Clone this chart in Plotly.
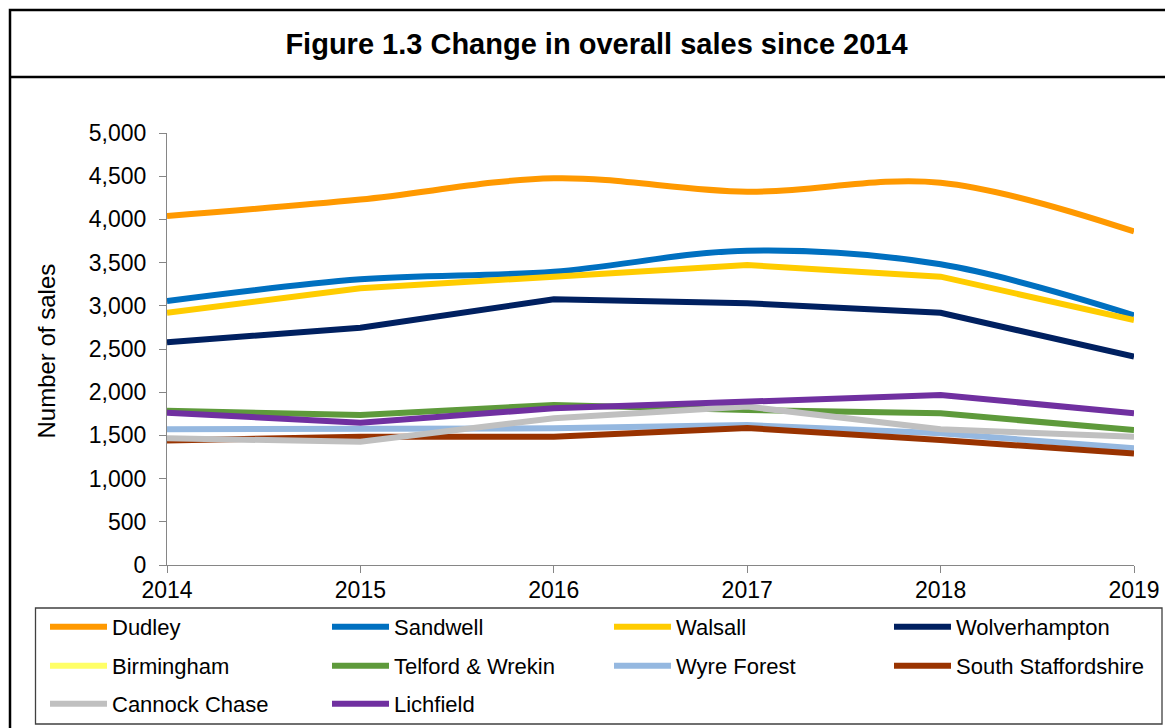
import plotly.graph_objects as go

years = [2014, 2015, 2016, 2017, 2018, 2019]

dudley = [4040, 4230, 4475, 4320, 4425, 3860]
sandwell = [3056, 3306, 3395, 3638, 3480, 2890]
walsall = [2920, 3202, 3337, 3472, 3337, 2836]
wolverhampton = [2578, 2747, 3075, 3029, 2920, 2411]
birmingham = [None, None, None, None, None, None]
telford = [1786, 1736, 1852, 1794, 1755, 1562]
wyre_forest = [1570, 1570, 1582, 1620, 1524, 1350]
south_staffs = [1440, 1485, 1485, 1585, 1447, 1290]
cannock = [1466, 1427, 1698, 1833, 1570, 1485]
lichfield = [1763, 1647, 1813, 1890, 1968, 1755]

y_ticks = [0, 500, 1000, 1500, 2000, 2500, 3000, 3500, 4000, 4500, 5000]

series_names = ["Dudley", "Sandwell", "Walsall", "Wolverhampton", "Birmingham",
                "Telford & Wrekin", "Wyre Forest", "South Staffordshire",
                "Cannock Chase", "Lichfield"]
series_values = [dudley, sandwell, walsall, wolverhampton, birmingham,
                 telford, wyre_forest, south_staffs, cannock, lichfield]
series_colors = ["#FF9900", "#0070C0", "#FFCC00", "#002060", "#FFFF66",
                 "#5E9A3B", "#95B8E0", "#993300", "#C0C0C0", "#7030A0"]
series_shapes = ["spline", "spline", "linear", "linear", "linear",
                 "linear", "linear", "linear", "linear", "linear"]

FONT = "Liberation Sans, Arial, sans-serif"
# the page adds an 8px body margin, so the figure is drawn 8px smaller
W, H = 1165, 720
L, R, T, B = 159, 1126, 125, 557
PW, PH = R - L, B - T


def px_x(p):
    return (p - L) / PW


def px_y(p):
    return (B - p) / PH


# legend layout: 4 columns, 3 rows
col_x = [37, 319, 601, 881]
row_y = [619, 658, 696]

fig = go.Figure()
legend_layouts = {}
for i, (name, vals, color, shape) in enumerate(zip(series_names, series_values,
                                                  series_colors, series_shapes)):
    lid = "legend" if i == 0 else f"legend{i + 1}"
    fig.add_trace(go.Scatter(
        x=years, y=vals, name=name, mode="lines",
        line=dict(color=color, width=6, shape=shape),
        legend=lid, hoverinfo="x+y+name",
    ))
    legend_layouts[lid] = dict(
        orientation="v", xref="container", yref="container",
        xanchor="left", yanchor="middle",
        x=col_x[i % 4] / W, y=1 - row_y[i // 4] / H,
        font=dict(family=FONT, size=22, color="#000000"),
        itemwidth=57, bgcolor="rgba(0,0,0,0)", borderwidth=0,
    )

fig.update_layout(
    width=W, height=H,
    margin=dict(l=L, r=W - R, t=T, b=H - B, autoexpand=False),
    paper_bgcolor="white", plot_bgcolor="white",
    showlegend=True,
    title=dict(
        text="<b>Figure 1.3 Change in overall sales since 2014</b>",
        x=588.5 / W, xanchor="center", xref="container",
        y=1 - 36 / H, yanchor="middle", yref="container",
        font=dict(family=FONT, size=29, color="#000000"),
    ),
    xaxis=dict(
        range=[2014, 2019], tickvals=years, ticktext=[str(y) for y in years],
        showgrid=False, zeroline=False, showline=True, linecolor="#868686", linewidth=1,
        ticks="outside", ticklen=7, tickcolor="#868686", tickwidth=1,
        tickfont=dict(family=FONT, size=23, color="#000000"),
        ticklabelstandoff=-3,
        fixedrange=True,
    ),
    yaxis=dict(
        range=[0, 5000], tickvals=y_ticks, tickformat=",d",
        showgrid=False, zeroline=False, showline=True, linecolor="#868686", linewidth=1,
        ticks="outside", ticklen=7, tickcolor="#868686", tickwidth=1,
        tickfont=dict(family=FONT, size=23, color="#000000"),
        ticklabelstandoff=8,
        fixedrange=True,
    ),
    annotations=[dict(
        text="Number of sales", textangle=-90, showarrow=False,
        xref="paper", yref="paper", x=px_x(37.5), y=px_y(343),
        xanchor="center", yanchor="middle",
        font=dict(family=FONT, size=24, color="#000000"),
    )],
    shapes=[
        # outer frame
        dict(type="rect", xref="paper", yref="paper",
             x0=px_x(2), x1=px_x(1190), y0=px_y(745), y1=px_y(2),
             line=dict(color="#000000", width=2.5), fillcolor="rgba(0,0,0,0)", layer="below"),
        # title separator
        dict(type="line", xref="paper", yref="paper",
             x0=px_x(2), x1=px_x(1190), y0=px_y(69), y1=px_y(69),
             line=dict(color="#000000", width=2.5)),
        # legend box
        dict(type="rect", xref="paper", yref="paper",
             x0=px_x(27.5), x1=px_x(1154), y0=px_y(716), y1=px_y(600),
             line=dict(color="#404040", width=1.3), fillcolor="rgba(0,0,0,0)", layer="below"),
    ],
    **legend_layouts,
)

fig.write_html("out.html")
